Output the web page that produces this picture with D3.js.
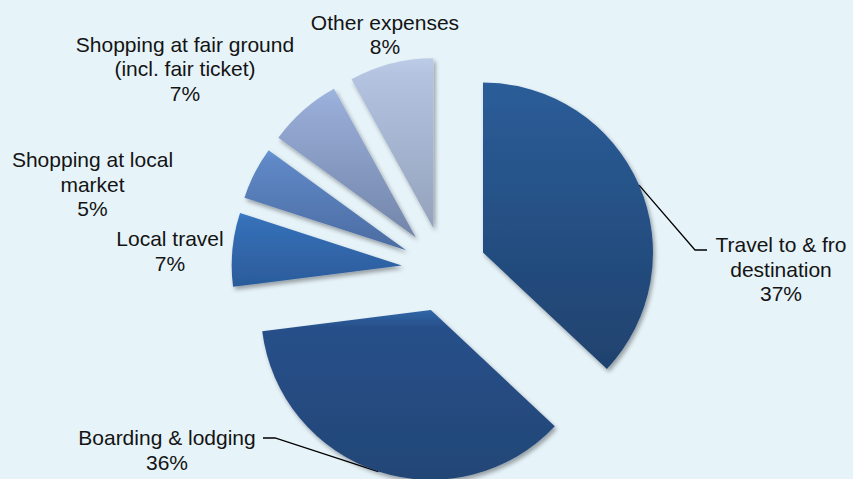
<!DOCTYPE html>
<html>
<head>
<meta charset="utf-8">
<script src="https://cdn.jsdelivr.net/npm/d3@7"></script>
<style>
  body { margin: 0; background: #e6f3f9; }
  svg { display: block; }
  .label { font-family: "Liberation Sans", Arial, sans-serif; font-size: 21px; fill: #141414; }
  .leader { fill: none; stroke: #000; stroke-width: 1.3px; }
</style>
</head>
<body>
<div id="chart-area"></div>
<script>
// Data
var categories = ["Travel to & fro destination", "Boarding & lodging", "Local travel",
                  "Shopping at local market", "Shopping at fair ground (incl. fair ticket)", "Other expenses"];
var shares = [37, 36, 7, 5, 7, 8];
var labelLines = [["Travel to & fro", "destination"], ["Boarding & lodging"], ["Local travel"],
                  ["Shopping at local", "market"], ["Shopping at fair ground", "(incl. fair ticket)"], ["Other expenses"]];

// Colours per slice: top, upper, bottom of the vertical gradient
var palette = [
  ["#2c5d99", "#2a5a94", "#1f426e"],
  ["#3166a8", "#27508a", "#234676"],
  ["#3c7bc8", "#3570b8", "#2b5b9a"],
  ["#6995d4", "#5f88c6", "#4c6ca2"],
  ["#9fb6df", "#97acd6", "#7385aa"],
  ["#bccbe6", "#b3c3e0", "#94a2bc"]
];

var width = 853, height = 479;
var center = [444, 269.5];
var radius = 170;
var explode = 0.25;   // fraction of radius

// label anchors (middle x, first baseline) and leader elbows
var labelPos = [[781, 252], [167, 445], [170, 246], [92.5, 167], [185, 51.5], [385, 29.5]];
var leaderElbows = { 0: [[695, 250], [707, 250]], 1: [[275, 438], [263, 438]] };
var lineHeight = 24.5;

var svg = d3.select("#chart-area").append("svg")
  .attr("width", width)
  .attr("height", height);

var defs = svg.append("defs");

var shadow = defs.append("filter")
  .attr("id", "shadow")
  .attr("x", "-20%").attr("y", "-20%")
  .attr("width", "140%").attr("height", "140%");
shadow.append("feDropShadow")
  .attr("dx", 2).attr("dy", 3)
  .attr("stdDeviation", 2.2)
  .attr("flood-color", "#000")
  .attr("flood-opacity", 0.35);

palette.forEach(function(c, i) {
  var grad = defs.append("linearGradient")
    .attr("id", "grad" + i)
    .attr("x1", 0).attr("y1", 0).attr("x2", 0).attr("y2", 1);
  grad.append("stop").attr("offset", "0%").attr("stop-color", c[0]);
  grad.append("stop").attr("offset", "10%").attr("stop-color", c[1]);
  grad.append("stop").attr("offset", "100%").attr("stop-color", c[2]);
});

var pie = d3.pie().sort(null).value(function(d) { return d; });
var arcs = pie(shares);

var arc = d3.arc().innerRadius(0).outerRadius(radius);
var edgeArc = d3.arc().innerRadius(radius).outerRadius(radius);

function offset(d) {
  var a = (d.startAngle + d.endAngle) / 2;
  var dist = explode * radius;
  return [Math.sin(a) * dist, -Math.cos(a) * dist];
}

var g = svg.append("g")
  .attr("transform", "translate(" + center[0] + "," + center[1] + ")");

// leader lines (behind slices)
arcs.forEach(function(d, i) {
  if (!leaderElbows[i]) return;
  var o = offset(d);
  var p = edgeArc.centroid(d);
  var pts = [[center[0] + p[0] + o[0], center[1] + p[1] + o[1]]].concat(leaderElbows[i]);
  svg.insert("path", "g")
    .attr("class", "leader")
    .attr("d", d3.line()(pts));
});

g.selectAll("path.slice")
  .data(arcs)
  .enter()
  .append("path")
    .attr("class", "slice")
    .attr("transform", function(d) { var o = offset(d); return "translate(" + o[0] + "," + o[1] + ")"; })
    .attr("d", arc)
    .attr("fill", function(d, i) { return "url(#grad" + i + ")"; })
    .attr("filter", "url(#shadow)");

// labels
var labels = svg.selectAll("text.label")
  .data(arcs)
  .enter()
  .append("text")
    .attr("class", "label")
    .attr("text-anchor", "middle")
    .attr("x", function(d, i) { return labelPos[i][0]; })
    .attr("y", function(d, i) { return labelPos[i][1]; });

labels.each(function(d, i) {
  var t = d3.select(this);
  var lines = labelLines[i].concat([shares[i] + "%"]);
  lines.forEach(function(line, k) {
    t.append("tspan")
      .attr("x", labelPos[i][0])
      .attr("dy", k === 0 ? 0 : lineHeight)
      .text(line);
  });
});
</script>
</body>
</html>
